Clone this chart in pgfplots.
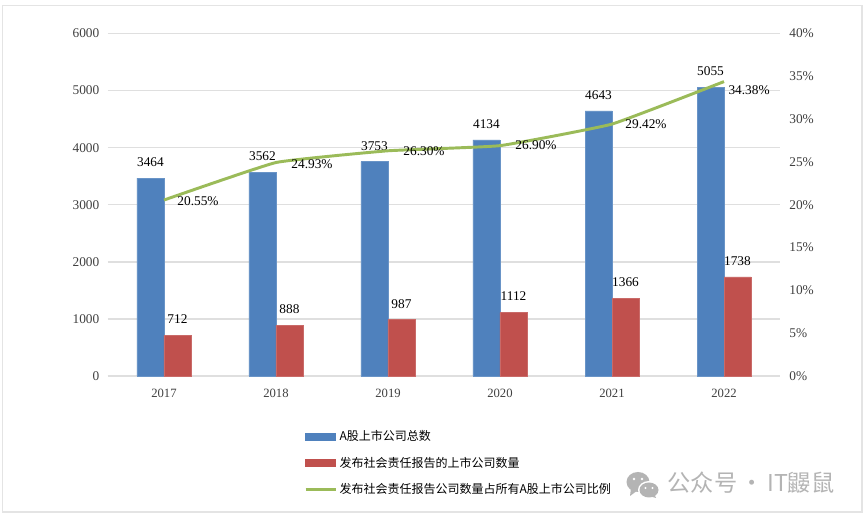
\documentclass[border=0pt]{standalone}
\usepackage{pgfplots}
\usepackage{pgfplotstable}
\usepackage{fontspec}
\pgfplotsset{compat=1.18}
\setmainfont{Liberation Serif}
\newfontfamily\cjk{Noto Sans CJK SC}
\definecolor{cblue}{HTML}{4F81BD}
\definecolor{cred}{HTML}{C0504D}
\definecolor{cgreen}{HTML}{9BBB59}
\definecolor{cgrid}{HTML}{DFDFDF}
\definecolor{ctick}{HTML}{404040}
\definecolor{cframe}{HTML}{E4E4E4}
\definecolor{cmark}{HTML}{B4B4B4}
\pgfplotstableread{
x total
0 3464
1 3562
2 3753
3 4134
4 4643
5 5055
}\totaltable
\pgfplotstableread{
x report
0 712
1 888
2 987
3 1112
4 1366
5 1738
}\reporttable
\pgfplotstableread{
x ratio dx dy
0 20.55 25.5 -0.8
1 24.93 27 -1.1
2 26.30 27 0
3 26.90 27 0
4 29.42 25.5 0
5 34.38 18.8 -6.8
}\ratiotable
\pgfplotsset{
  common/.style={
    scale only axis, width=504pt, height=256.9pt,
    xmin=-0.5, xmax=5.5, ymin=0,
    axis line style={draw=none},
    major tick length=0pt,
    /pgf/number format/assume math mode=true,
    /pgf/number format/1000 sep={},
    clip=false,
  },
  swatch/.style={legend image code/.code={
    \fill[#1] (0cm,-2.6pt) rectangle (22.5pt,2.6pt);}},
  linesw/.style={legend image code/.code={
    \draw[cgreen,line width=2pt] (0cm,0cm) -- (22.5pt,0cm);}},
}
\begin{document}
\begin{tikzpicture}[x=0.75pt,y=0.75pt]
\useasboundingbox (-108,-142) rectangle (757,376);
\fill[white] (-108,-142) rectangle (757,376);
\draw[cframe,line width=1.1pt] (-105.5,-136) rectangle (754,370.5);
\begin{axis}[common,
  ymax=6000, ytick={0,1000,...,6000},
  ymajorgrids, grid style={cgrid,line width=1.1pt},
  xtick={0,...,5}, xticklabels={2017,2018,2019,2020,2021,2022},
  xticklabel style={font=\fontsize{9.5}{10}\selectfont,text=ctick,yshift=-6.5pt},
  yticklabel style={font=\fontsize{10}{10}\selectfont,text=ctick,xshift=-3pt},
  every node near coord/.append style={font=\fontsize{10}{10}\selectfont,text=black,
    anchor=center,yshift=12pt,inner sep=0pt},
]
\draw[cgrid,line width=1.1pt] (axis cs:-0.5,0) -- (axis cs:5.5,0);
\addplot[ybar,bar width=20.25pt,bar shift=-10.125pt,fill=cblue,draw=cblue!85!white,
  nodes near coords,point meta=y,
  every node near coord/.append style={xshift=-10.125pt}] table[x=x,y=total]{\totaltable};
\addplot[ybar,bar width=20.25pt,bar shift=10.125pt,fill=cred,draw=cred!85!white,
  nodes near coords,point meta=y,
  every node near coord/.append style={xshift=10.125pt}] table[x=x,y=report]{\reporttable};
\end{axis}
\begin{axis}[common,
  ymax=40, ytick={0,5,...,40},
  axis x line=none, axis y line*=right,
  yticklabel={\pgfmathprintnumber{\tick}\%},
  yticklabel style={font=\fontsize{10}{10}\selectfont,text=ctick,xshift=3.5pt},
  legend style={draw=none,fill=none,at={(axis cs:-0.5,0)},anchor=north west,
    xshift=147pt,yshift=-38.7pt,
    font=\cjk\fontsize{9}{10}\selectfont,row sep=6.6pt,inner sep=0pt,
    /tikz/every even column/.append style={column sep=3pt}},
  legend cell align=left,
]
\addlegendimage{swatch=cblue}
\addlegendimage{swatch=cred}
\addplot[cgreen,line width=2.2pt,smooth,tension=0.2,linesw,
  visualization depends on=\thisrow{dx}\as\dx,
  visualization depends on=\thisrow{dy}\as\dy,
  nodes near coords={\pgfmathprintnumber[fixed,fixed zerofill,precision=2]{\pgfplotspointmeta}\%},
  point meta=y,
  every node near coord/.append style={font=\fontsize{10}{10}\selectfont,text=black,
    anchor=center,inner sep=0pt,xshift=\dx pt,yshift=\dy pt},
] table[x=x,y=ratio]{\ratiotable};
\legend{A股上市公司总数,发布社会责任报告的上市公司数量,发布社会责任报告公司数量占所有A股上市公司比例}
\end{axis}
% watermark
\fill[cmark] (530,-106) ellipse (11.5 and 10);
\fill[cmark] (523,-112) -- (522,-120) -- (530,-114) -- cycle;
\fill[white] (541,-114) ellipse (11 and 9);
\fill[cmark] (541,-114) ellipse (9.5 and 7.5);
\fill[cmark] (546,-118) -- (548,-122) -- (541,-120) -- cycle;
\fill[white] (526,-103) circle (1.4) (534,-103) circle (1.4) (537.5,-112) circle (1.1) (544.5,-112) circle (1.1);
\node[anchor=west,inner sep=0pt,text=cmark,font=\cjk\fontsize{17.4}{18}\selectfont] at (559.5,-107) {公众号\hspace{2.5pt}·\hspace{2.5pt}IT鼹鼠};
\end{tikzpicture}
\end{document}
